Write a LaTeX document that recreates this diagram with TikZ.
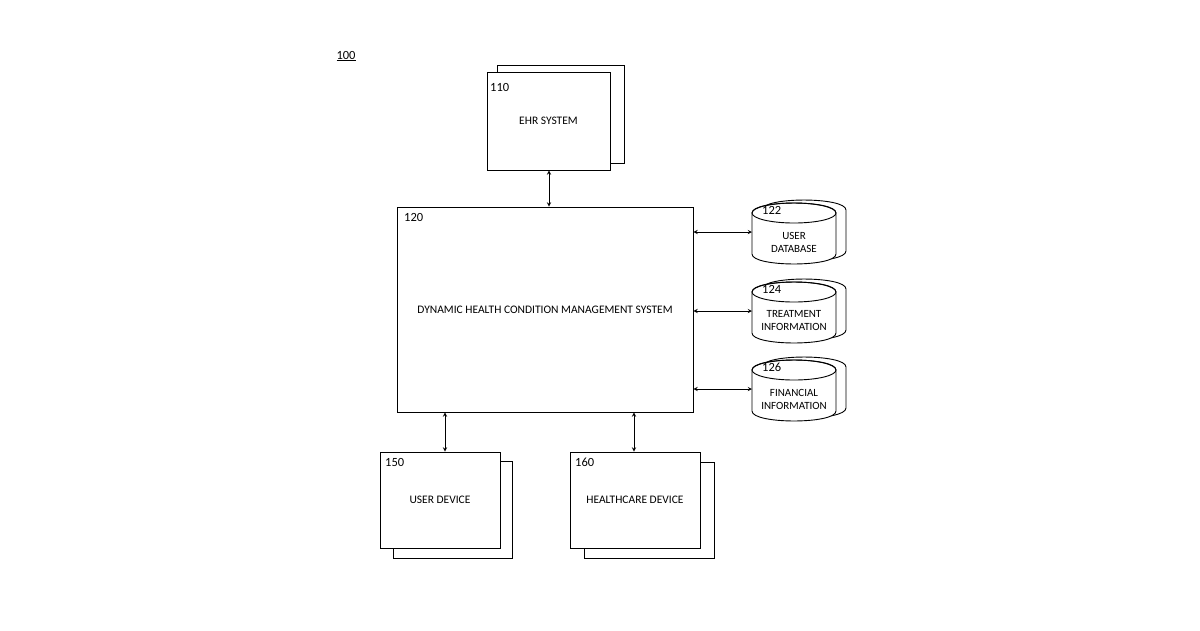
\documentclass[tikz,border=0pt]{standalone}
\usepackage{fontspec}
\setmainfont{Carlito}
\usetikzlibrary{positioning}
\tikzset{
  box/.style={draw, fill=white, line width=0.9pt, inner sep=0pt, font=\fontsize{11.5}{13}\selectfont},
  tag/.style={font=\fontsize{12.5}{13}\selectfont, anchor=north west, inner sep=0pt},
  lbl/.style={font=\fontsize{11}{13}\selectfont, align=center, inner sep=0pt},
  link/.style={<->, >=stealth, line width=0.9pt}
}
% stacked cylinder: left x, ellipse centre y, name, number, text
\newcommand{\dbshape}[2]{
  \draw[box] (#1,#2) -- (#1,#2+41) .. controls (#1,#2+54.3) and (#1+84,#2+54.3) .. (#1+84,#2+41)
    -- (#1+84,#2) .. controls (#1+84,#2-13.3) and (#1,#2-13.3) .. (#1,#2) -- cycle;
}
\newcommand{\stackdb}[5]{
  \dbshape{#1+10}{#2-3}
  \dbshape{#1}{#2}
  \draw[line width=0.9pt] (#1+42,#2) ellipse[x radius=42, y radius=10];
  \coordinate (#3) at (#1,#2+19);
  \node[tag] at (#1+10,#2-7) {#4};
  \node[lbl] at (#1+42,#2+29) {#5};
}
\begin{document}
\begin{tikzpicture}[x=1pt, y=-1pt]
  \useasboundingbox (0,0) rectangle (1200,630);
  \node[font=\fontsize{12.5}{13}\selectfont] (fig) at (346,56) {\underline{100}};

  % EHR system
  \node[box, minimum width=127pt, minimum height=98pt] (ehrb) at (560.5,114) {};
  \node[box, minimum width=123pt, minimum height=98pt] (ehr) at (548.5,121) {EHR SYSTEM};
  \node[tag] at (490,83) {110};

  % main system
  \node[box, minimum width=296pt, minimum height=205pt] (dhc) at (545,309.5)
    {DYNAMIC HEALTH CONDITION MANAGEMENT SYSTEM};
  \node[tag] at (404,213) {120};

  % devices
  \node[box, minimum width=119pt, minimum height=97pt] (udb) at (452.5,509.5) {};
  \node[box, minimum width=120pt, minimum height=96pt] (ud) at (440,500) {USER DEVICE};
  \node[tag] at (385,458) {150};
  \node[box, minimum width=130pt, minimum height=96pt] (hcb) at (649,510) {};
  \node[box, minimum width=130pt, minimum height=96pt] (hc) at (635,500) {HEALTHCARE DEVICE};
  \node[tag] at (575,458) {160};

  % databases
  \stackdb{752}{213}{udb122}{122}{USER\\DATABASE}
  \stackdb{752}{292}{tdb124}{124}{TREATMENT\\INFORMATION}
  \stackdb{752}{370}{fdb126}{126}{FINANCIAL\\INFORMATION}

  % links
  \draw[link] (ehr.south -| 549,0) -- (dhc.north -| 549,0);
  \draw[link] (dhc.south -| 445,0) -- (ud.north -| 445,0);
  \draw[link] (dhc.south -| 634,0) -- (hc.north -| 634,0);
  \draw[link] (dhc.east |- udb122) -- (udb122);
  \draw[link] (dhc.east |- tdb124) -- (tdb124);
  \draw[link] (dhc.east |- fdb126) -- (fdb126);
\end{tikzpicture}
\end{document}
